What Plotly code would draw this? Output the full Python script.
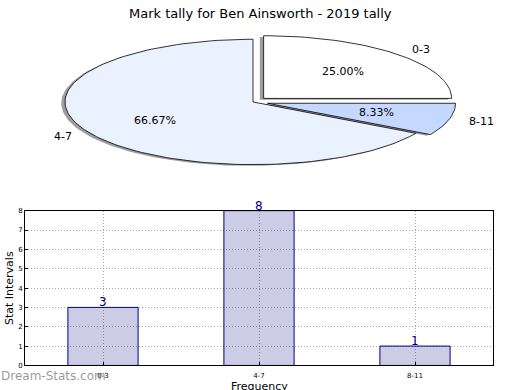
import numpy as np
import plotly.graph_objects as go

# ---- data ----
categories = ["0-3", "4-7", "8-11"]
counts = [3, 8, 1]
title_text = "Mark tally for Ben Ainsworth - 2019 tally"
x_title = "Frequency"
y_title = "Stat Intervals"
y_tick_values = [0, 1, 2, 3, 4, 5, 6, 7, 8]
watermark = "Dream-Stats.com"

# ---- styles ----
pie_colors = ["#FFFFFF", "#EAF1FF", "#C5D8FF"]
explode = [0.08, 0.0, 0.08]
FONT = "DejaVu Sans"
W, H = 520, 390

fig = go.Figure()

# ---- pie (elliptical, drawn on its own axes) ----
vals = np.array(counts, dtype=float)
fracs = vals / vals.sum()
edges = np.concatenate([[0.0], np.cumsum(fracs)]) * 2 * np.pi


def wedge(i, dx=0.0, dy=0.0):
    t1, t2 = edges[i], edges[i + 1]
    mid = (t1 + t2) / 2
    cx = explode[i] * np.cos(mid) + dx
    cy = explode[i] * np.sin(mid) + dy
    n = max(int(200 * (t2 - t1) / (2 * np.pi)), 8)
    t = np.linspace(t1, t2, n)
    xs = np.concatenate([[cx], cx + np.cos(t), [cx]])
    ys = np.concatenate([[cy], cy + np.sin(t), [cy]])
    return xs, ys, cx, cy, mid


# shadows first
for i in range(len(categories)):
    xs, ys, *_ = wedge(i, -0.02, -0.02)
    fig.add_trace(go.Scatter(x=xs, y=ys, mode="lines", fill="toself",
                             fillcolor="rgba(60,60,60,0.5)", line=dict(width=0),
                             xaxis="x2", yaxis="y2", hoverinfo="skip", showlegend=False))

annotations = []
for i, cat in enumerate(categories):
    xs, ys, cx, cy, mid = wedge(i)
    fig.add_trace(go.Scatter(x=xs, y=ys, mode="lines", fill="toself",
                             fillcolor=pie_colors[i], line=dict(color="black", width=0.8),
                             xaxis="x2", yaxis="y2", hoverinfo="skip", showlegend=False))
    lx, ly = cx + 1.1 * np.cos(mid), cy + 1.1 * np.sin(mid)
    annotations.append(dict(x=lx, y=ly, xref="x2", yref="y2", text=cat, showarrow=False,
                            xanchor="left" if lx > 0 else "right", yanchor="middle",
                            font=dict(family=FONT, size=11, color="black")))
    px_, py_ = cx + 0.6 * np.cos(mid), cy + 0.6 * np.sin(mid)
    annotations.append(dict(x=px_, y=py_, xref="x2", yref="y2",
                            text="%.2f%%" % (fracs[i] * 100), showarrow=False,
                            xanchor="center", yanchor="middle",
                            font=dict(family=FONT, size=11, color="black")))

# ---- bar chart ----
xpos = list(range(len(categories)))
fig.add_trace(go.Bar(x=xpos, y=counts, width=0.45,
                     marker=dict(color="rgba(0,0,128,0.2)", line=dict(color="#000080", width=1)),
                     hoverinfo="skip", showlegend=False))
for xi, v in zip(xpos, counts):
    annotations.append(dict(x=xi, y=v, xref="x", yref="y", text=str(v), showarrow=False,
                            xanchor="center", yanchor="middle", yshift=5,
                            font=dict(family=FONT, size=12, color="#000080")))

# title, axis titles, watermark
annotations.append(dict(x=0.5, y=1 - 10 / H, xref="paper", yref="paper", text=title_text,
                        showarrow=False, xanchor="center", yanchor="middle",
                        font=dict(family=FONT, size=13, color="black")))
annotations.append(dict(x=259 / W, y=1 - 391 / H, xref="paper", yref="paper", text=x_title,
                        showarrow=False, xanchor="center", yanchor="middle",
                        font=dict(family=FONT, size=11, color="black")))
annotations.append(dict(x=9 / W, y=1 - 290 / H, xref="paper", yref="paper", text=y_title,
                        showarrow=False, xanchor="center", yanchor="middle", textangle=-90,
                        font=dict(family=FONT, size=11, color="black")))
annotations.append(dict(x=-1 / W, y=1 - 380 / H, xref="paper", yref="paper", text=watermark,
                        showarrow=False, xanchor="left", yanchor="middle",
                        font=dict(family=FONT, size=12, color="rgba(120,120,120,0.75)")))

# pie axis geometry: 1 unit = 188 px horizontally, 64 px vertically
pie_top_px, pie_bot_px = 0, 200
cx_px, cy_px = 253, 100
ux, uy = 188.0, 64.0

grid = dict(showgrid=True, gridcolor="#a8a8a8", griddash="1px,2px", gridwidth=1,
            showline=True, linecolor="black", mirror=True, linewidth=1,
            ticks="inside", ticklen=3, tickcolor="black", zeroline=False,
            fixedrange=True, tickfont=dict(size=7))

fig.update_layout(
    width=W, height=H,
    margin=dict(l=0, r=0, t=0, b=0),
    paper_bgcolor="white", plot_bgcolor="white",
    font=dict(family=FONT, color="black"),
    annotations=annotations,
    xaxis=dict(domain=[25 / W, 493 / W], range=[-0.5, 2.5],
               tickvals=xpos, ticktext=categories, ticklabelstandoff=3, **grid),
    yaxis=dict(domain=[(H - 369) / H, (H - 211) / H], range=[0, 8],
               tickvals=y_tick_values, **grid),
    xaxis2=dict(domain=[0, 1], range=[-cx_px / ux, (W - cx_px) / ux], visible=False,
                fixedrange=True, anchor="y2"),
    yaxis2=dict(domain=[(H - pie_bot_px) / H, (H - pie_top_px) / H],
                range=[-(pie_bot_px - cy_px) / uy, (cy_px - pie_top_px) / uy],
                visible=False, fixedrange=True, anchor="x2"),
)

fig.write_html("out.html", config={"displayModeBar": False},
               post_script="document.body.style.margin='0';document.body.style.overflow='hidden';")
